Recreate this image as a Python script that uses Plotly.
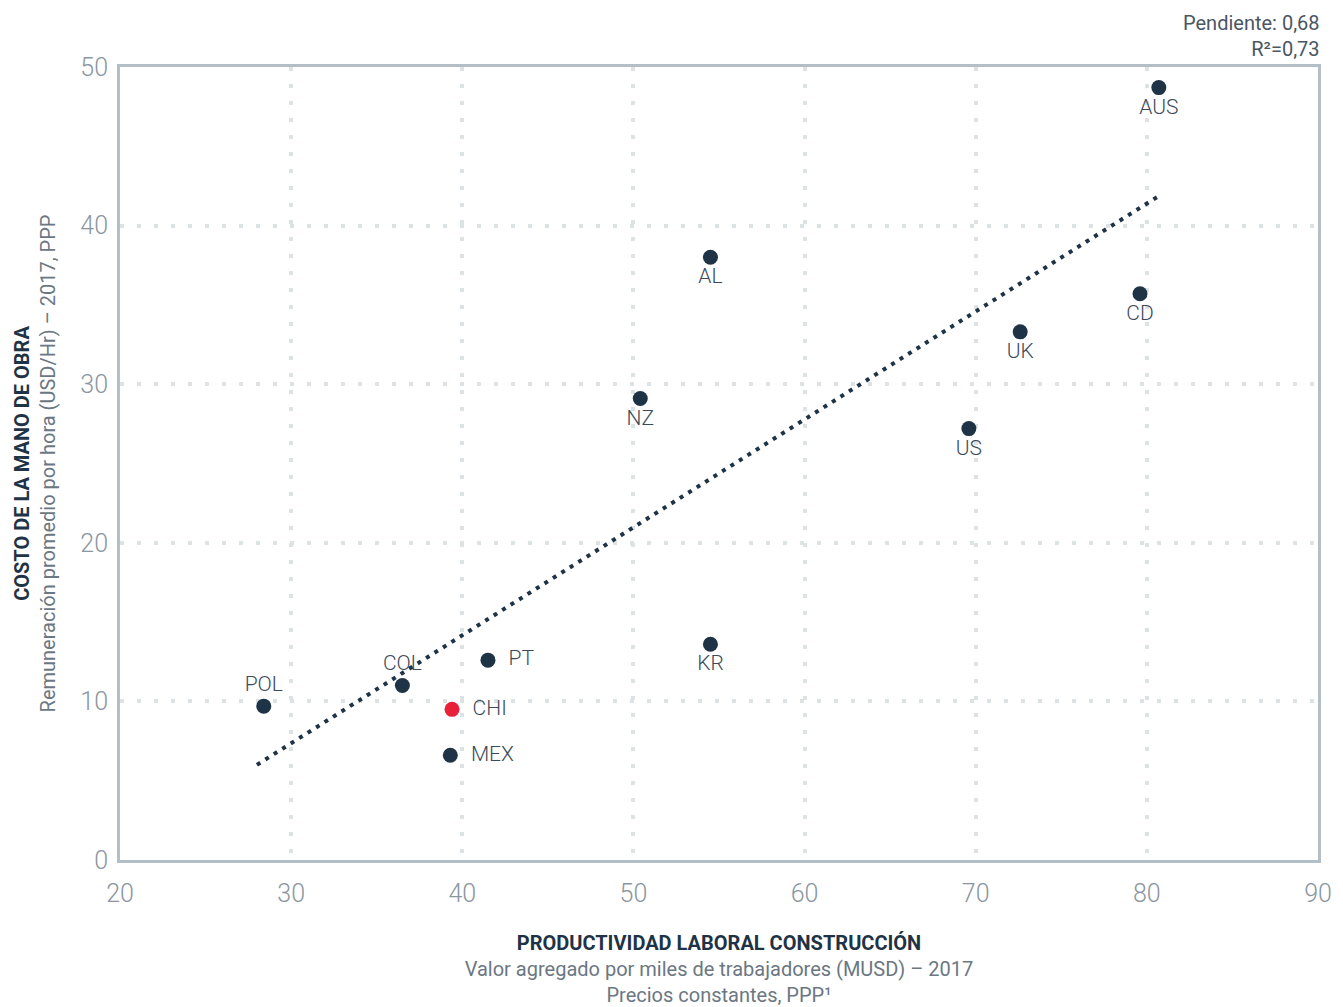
import plotly.graph_objects as go

countries = ["AUS", "AL", "CD", "UK", "NZ", "US", "KR", "PT", "COL", "POL", "CHI", "MEX"]
productivity = [80.7, 54.5, 79.6, 72.6, 50.4, 69.6, 54.5, 41.5, 36.5, 28.4, 39.4, 39.3]
labor_cost = [48.7, 38.0, 35.7, 33.3, 29.1, 27.2, 13.6, 12.6, 11.0, 9.7, 9.5, 6.6]
label_pos = ["bottom center", "bottom center", "bottom center", "bottom center", "bottom center",
             "bottom center", "bottom center", "middle right", "top center", "top center",
             "middle right", "middle right"]
highlight = ["CHI"]

trend_x = [28.0, 80.6]
trend_y = [6.0, 41.8]

x_ticks = [20, 30, 40, 50, 60, 70, 80, 90]
y_ticks = [0, 10, 20, 30, 40, 50]

NAVY = "#1f3346"
RED = "#e8213a"
GRID = "#dde2e4"
TICK = "#8a96a0"
FONT = "Roboto"

colors = [RED if c in highlight else NAVY for c in countries]
labels = [("  " + c) if p == "middle right" else c for c, p in zip(countries, label_pos)]

fig = go.Figure()
fig.add_trace(go.Scatter(
    x=trend_x, y=trend_y, mode="lines",
    line=dict(color=NAVY, width=4, dash="4px,6px"),
    hoverinfo="skip", showlegend=False,
))
fig.add_trace(go.Scatter(
    x=productivity, y=labor_cost, mode="markers+text",
    text=labels, textposition=label_pos,
    textfont=dict(family=FONT, size=21, color="#3a4a5a", weight=300),
    marker=dict(size=15, color=colors),
    showlegend=False,
))

fig.update_layout(
    width=1335, height=999,
    margin=dict(l=112, r=25, t=59, b=147),
    plot_bgcolor="white", paper_bgcolor="white",
    font=dict(family=FONT),
)
fig.update_xaxes(
    range=[20, 90], tickvals=x_ticks, ticktext=[str(v) for v in x_ticks],
    showgrid=True, gridcolor=GRID, gridwidth=4, griddash="4px,13px",
    showline=True, linecolor="#b3bec6", linewidth=3, mirror=True,
    zeroline=False, ticks="", ticklabelstandoff=9, automargin=False,
    tickfont=dict(family=FONT, size=25, color=TICK, weight=300),
    title=dict(
        text="<b>PRODUCTIVIDAD LABORAL CONSTRUCCIÓN</b><br>"
             "<span style='color:#6b7782'>Valor agregado por miles de trabajadores (MUSD) – 2017</span><br>"
             "<span style='color:#6b7782'>Precios constantes, PPP¹</span>",
        font=dict(family=FONT, size=20, color=NAVY), standoff=31,
    ),
)
fig.update_yaxes(
    range=[0, 50], tickvals=y_ticks, ticktext=[str(v) for v in y_ticks],
    showgrid=True, gridcolor=GRID, gridwidth=4, griddash="4px,13px",
    showline=True, linecolor="#b3bec6", linewidth=3, mirror=True,
    zeroline=False, ticks="", ticklabelstandoff=4, automargin=False,
    tickfont=dict(family=FONT, size=25, color=TICK, weight=300),
    title=dict(
        text="<b>COSTO DE LA MANO DE OBRA</b><br>"
             "<span style='color:#6b7782'>Remuneración promedio por hora (USD/Hr) – 2017, PPP</span>",
        font=dict(family=FONT, size=20, color=NAVY), standoff=20,
    ),
)
fig.add_annotation(
    xref="paper", yref="paper", x=1.0, y=1.0, xanchor="right", yanchor="bottom",
    yshift=4, xshift=4, showarrow=False, align="right",
    text="Pendiente: 0,68<br>R²=0,73",
    font=dict(family=FONT, size=20, color="#4a5662"),
)

fig.write_html("out.html")
